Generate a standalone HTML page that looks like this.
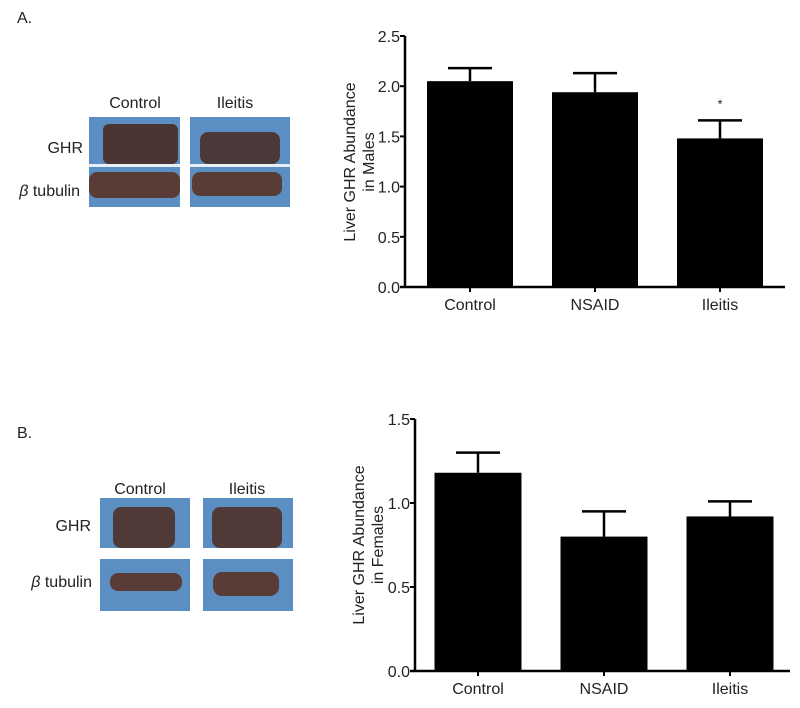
<!DOCTYPE html>
<html><head><meta charset="utf-8"><style>
body{margin:0;background:#fff;}
svg text{font-family:"Liberation Sans",Arial,sans-serif;fill:#222;}
</style></head><body>
<svg width="800" height="703" viewBox="0 0 800 703" xmlns="http://www.w3.org/2000/svg">
<!-- Panel A blots -->
<text x="17" y="23" font-size="16">A.</text>
<text x="135" y="108" font-size="16" text-anchor="middle">Control</text>
<text x="235" y="108" font-size="16" text-anchor="middle">Ileitis</text>
<text x="83" y="153" font-size="16" text-anchor="end">GHR</text>
<text x="80" y="196" font-size="16" text-anchor="end"><tspan font-style="italic">β</tspan> tubulin</text>
<g>
<rect x="89" y="117" width="91" height="90" fill="#5b8fc4"/>
<rect x="103" y="124" width="75" height="40" rx="6" fill="#4a3532"/>
<rect x="89" y="172" width="91" height="26" rx="8" fill="#5a3c36"/>
<rect x="89" y="164" width="91" height="3" fill="#e8eef5"/>
</g>
<g>
<rect x="190" y="117" width="100" height="90" fill="#5b8fc4"/>
<rect x="200" y="132" width="80" height="32" rx="8" fill="#4b3a3a"/>
<rect x="192" y="172" width="90" height="24" rx="8" fill="#5a3c36"/>
<rect x="190" y="164" width="100" height="3" fill="#e8eef5"/>
</g>
<!-- Panel B blots -->
<text x="17" y="438" font-size="16">B.</text>
<text x="140" y="494" font-size="16" text-anchor="middle">Control</text>
<text x="247" y="494" font-size="16" text-anchor="middle">Ileitis</text>
<text x="91" y="531" font-size="16" text-anchor="end">GHR</text>
<text x="92" y="587" font-size="16" text-anchor="end"><tspan font-style="italic">β</tspan> tubulin</text>
<g>
<rect x="100" y="498" width="90" height="50" fill="#5b8fc4"/>
<rect x="113" y="507" width="62" height="41" rx="8" fill="#4f3a38"/>
<rect x="100" y="559" width="90" height="52" fill="#5b8fc4"/>
<rect x="110" y="573" width="72" height="18" rx="8" fill="#5a3c36"/>
</g>
<g>
<rect x="203" y="498" width="90" height="50" fill="#5b8fc4"/>
<rect x="212" y="507" width="70" height="41" rx="8" fill="#4f3a38"/>
<rect x="203" y="559" width="90" height="52" fill="#5b8fc4"/>
<rect x="213" y="572" width="66" height="24" rx="9" fill="#5a3c36"/>
</g>
<g id="chartA"></g>
<g id="chartB"></g>
</svg>
<script>
const categories = ["Control", "NSAID", "Ileitis"];
const maleValues = [2.05, 1.94, 1.48];
const maleErrors = [0.13, 0.19, 0.18];
const maleTicks = ["0.0", "0.5", "1.0", "1.5", "2.0", "2.5"];
const femaleValues = [1.18, 0.80, 0.92];
const femaleErrors = [0.12, 0.15, 0.09];
const femaleTicks = ["0.0", "0.5", "1.0", "1.5"];
const maleSignificant = [false, false, true];

const NS = "http://www.w3.org/2000/svg";
function mk(parent, tag, attrs, text) {
  const e = document.createElementNS(NS, tag);
  for (const k in attrs) e.setAttribute(k, attrs[k]);
  if (text !== undefined) e.textContent = text;
  parent.appendChild(e);
  return e;
}
function drawChart(g, cfg) {
  const y = v => cfg.y0 - (v / cfg.max) * (cfg.y0 - cfg.yTop);
  const xc = i => cfg.x0 + cfg.firstCenter + i * cfg.step;
  let ax = mk(g, "line", {x1: cfg.x0, y1: cfg.yTop, x2: cfg.x0, y2: cfg.y0, stroke: "#000", "stroke-width": 2.5});
  
  
  let xa = mk(g, "line", {x1: cfg.x0 - 5, y1: cfg.y0, x2: cfg.xEnd, y2: cfg.y0, stroke: "#000", "stroke-width": 2.5});
  
  
  cfg.ticks.forEach(t => {
    const v = parseFloat(t);
    const tk = mk(g, "line", {x1: cfg.x0 - 5, y1: y(v), x2: cfg.x0, y2: y(v), stroke: "#000", "stroke-width": 2});
    
    
    const tl = mk(g, "text", {x: cfg.x0 - 5, y: y(v) + 6, "font-size": 16, "text-anchor": "end"}, t);
    
    
  });
  const title = mk(g, "text", {transform: `translate(${cfg.titleX},${cfg.titleY}) rotate(-90)`, "font-size": 16, "text-anchor": "middle"});
  
  
  mk(title, "tspan", {x: 0, dy: 0}, "Liver GHR Abundance");
  mk(title, "tspan", {x: 0, dy: 19}, cfg.titleLine2);
  cfg.values.forEach((v, i) => {
    const c = xc(i);
    const bar = mk(g, "rect", {x: c - cfg.bw / 2, y: y(v), width: cfg.bw, height: cfg.y0 - y(v), fill: "#000"});
    
    
    const top = y(v + cfg.errors[i]);
    const eb = mk(g, "path", {d: `M${c},${y(v)}V${top}M${c - 22},${top}H${c + 22}`, stroke: "#000", "stroke-width": 2.5, fill: "none"});
    
    
    const xt = mk(g, "line", {x1: c, y1: cfg.y0, x2: c, y2: cfg.y0 + 5, stroke: "#000", "stroke-width": 2});
    
    
    const xl = mk(g, "text", {x: c, y: cfg.y0 + 23, "font-size": 16, "text-anchor": "middle"}, categories[i]);
    
    
    if (cfg.sig && cfg.sig[i]) {
      const s = mk(g, "text", {x: c, y: top - 12, "font-size": 13, "text-anchor": "middle"}, "*");
      
      
    }
  });
}
drawChart(document.getElementById("chartA"), {x0: 405, y0: 287, yTop: 36, max: 2.5, xEnd: 785, firstCenter: 65, step: 125, bw: 86,
  ticks: maleTicks, values: maleValues, errors: maleErrors, sig: maleSignificant, titleX: 355, titleY: 162, titleLine2: "in Males"});
drawChart(document.getElementById("chartB"), {x0: 415, y0: 671, yTop: 419, max: 1.5, xEnd: 790, firstCenter: 63, step: 126, bw: 87,
  ticks: femaleTicks, values: femaleValues, errors: femaleErrors, sig: null, titleX: 364, titleY: 545, titleLine2: "in Females"});
</script>
</body></html>
